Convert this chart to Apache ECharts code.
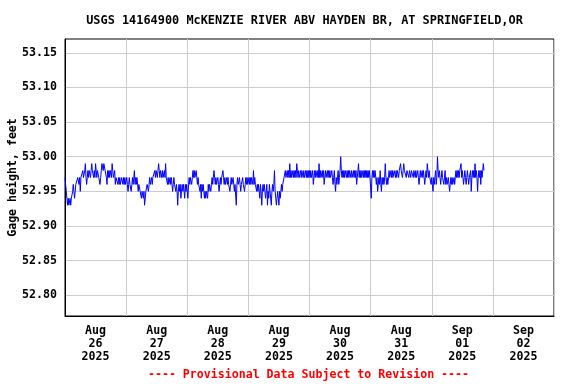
<!DOCTYPE html>
<html>
<head>
<meta charset="utf-8">
<script src="https://cdn.jsdelivr.net/npm/echarts@6/dist/echarts.min.js"></script>
<style>html,body{margin:0;padding:0;background:#fff}#c{width:576px;height:384px}</style>
</head>
<body>
<div id="c"></div>
<script>
// Gage height, feet — 15-minute readings, one array per day (UTC day starting at midnight)
const aug26 = [52.97,52.96,52.95,52.94, 52.93,52.94,52.93,52.93,52.94,52.93,52.94,52.94,
  52.95,52.96,52.95,52.94,52.95,52.96,52.96, 52.96,52.97,52.97,52.96,52.97,52.95,52.97,52.97,
  52.97,52.98,52.97,52.97,52.98,52.99,52.97,52.96,52.97,52.98,52.97,
  52.98,52.98,52.97,52.98,52.99,52.98,52.98,52.97, 52.98,52.97,52.99,52.98,52.97,52.98,52.98,
  52.97,52.97,52.96,52.97,52.98, 52.99,52.99,52.98,52.99,52.99,52.98, 52.98,52.97,52.96,52.98,52.97,
  52.98,52.97,52.98,52.98,52.97,52.99,52.98,52.97, 52.97,52.98,52.96,52.97,52.97,
  52.97,52.96,52.97,52.96,52.97,52.96,52.96,52.97,52.97,52.96,52.97,52.96,52.97,52.96];
const aug27 = [52.96,52.97,52.96,52.95,52.96,52.97,52.96,52.96,52.95,52.96,52.97,52.96,
  52.97,52.98,52.96,52.97,52.96,52.97,52.96,52.95,52.96,52.96,52.95,
  52.95,52.94,52.95,52.95,52.94,52.95,52.93,52.94,52.95,52.95,
  52.96,52.96,52.95,52.96,52.97,52.96,52.96,52.97,52.96,52.97,52.97,
  52.97,52.98,52.97,52.98,52.98,52.97,52.98,52.99,52.98,52.97,52.98,52.98,52.97,52.98,52.97,52.97,52.98,52.97,52.99,52.97,
  52.97,52.96,52.97,52.96,52.96,52.97,52.96,52.97,52.96,52.95,52.96,52.97,52.96,52.96,
  52.95,52.96,52.95,52.93,52.95,52.96,52.95,52.96,52.94,52.95,52.96,52.95,52.96,52.95,52.94,52.96,52.95,52.96];
const aug28 = [52.96,52.94,52.96,52.97,52.96,52.97,52.97,52.96,
  52.97,52.98,52.97,52.98,52.97,52.97,52.98,52.97,52.96,52.97,52.96,
  52.96,52.95,52.96,52.94,52.96,52.95,52.96,52.95,
  52.94,52.95,52.94,52.95,52.95,52.94,52.96,52.95,52.96,52.96,52.95,
  52.96,52.97,52.96,52.97,52.98,52.97,52.96,52.97,52.96,52.96,52.97,52.96,52.95,52.96,52.97,52.96,52.97,52.97,52.98,52.97,52.96,52.97,52.96,52.96,52.97,
  52.96,52.97,52.96,52.96,52.95,52.96,52.97,52.96,52.96,52.97,52.96,52.95,52.96,52.96,52.93,52.96,
  52.97,52.96,52.96,52.97,52.96,52.95,52.96,52.96,52.97,52.96,52.96,52.95,52.96,52.97,52.96,52.97,52.96];
const aug29 = [52.96,52.97,52.96,52.97,52.96,52.97,52.97,52.96,52.98,52.96,52.97,52.96,52.96,52.95,
  52.96,52.95,52.96,52.95,52.94,52.96,52.95,52.93,52.95,52.96,52.95,52.96,52.95,52.94,52.95,52.96,52.93,52.95,52.94,52.96,52.95,52.95,52.93,52.95,52.96,52.95,52.96,
  52.98,52.95,52.94,52.93,52.94,52.95,52.94,52.93,52.95,52.94,52.95,
  52.96,52.95,52.96,52.96,52.97,
  52.97,52.98,52.97,52.97,52.98,52.97,52.98,52.97,52.99,52.97,52.98,52.97,52.97,52.98,52.97,52.98,52.97,52.98,52.97,52.99,
  52.98,52.97,52.98,52.97,52.97,52.98,52.97,52.98,52.98,52.97,52.98,52.97,52.97,52.98,52.97,52.98,52.97,52.98,52.97];
const aug30 = [52.98,52.97,52.98,52.97,52.97,52.98,52.96,52.97,52.98,52.97,52.98,52.98,52.97,52.98,52.97,52.99,52.97,52.98,
  52.97,52.97,52.98,52.97,52.98,52.96,52.97,52.98,52.97,52.97,52.98,52.97,52.98,52.97,52.98,52.97,52.97,52.98,
  52.97,52.96,52.97,52.98,52.96,52.95,52.97,52.96,52.97,52.98,52.96,52.97,52.98,53.00,
  52.98,52.97,52.98,52.97,52.98,52.97,52.98,52.98,52.97,52.98,52.97,52.98,52.97,52.98,52.98,52.97,52.98,52.97,52.97,52.98,
  52.97,52.98,52.97,52.98,52.96,52.97,52.98,52.99,52.97,52.98,52.97,52.98,52.97,52.97,52.98,52.97,52.98,52.97,52.98,52.97,
  52.98,52.97,52.98,52.97,52.98,52.97];
const aug31 = [52.97,52.94,52.97,52.98, 52.97,52.98,52.97,52.98,52.97,
  52.96,52.97,52.95,52.96,52.97,52.96,52.98,52.96,52.95,52.97,52.96,52.97,52.96,52.97,52.99,52.97,
  52.96,52.97,52.96,52.97,52.98,52.97,52.97,
  52.98,52.97,52.98,52.97,52.97,52.98,52.98,52.97,52.98,52.97,52.98,52.98,52.97,52.98,
  52.98,52.99,52.98,52.98,52.97,52.98,52.99,52.98,52.98,52.98,52.97,52.98,52.98,52.98,52.97,52.98,52.98,52.97,52.98,52.98,52.98,52.97,52.98,
  52.98,52.97,52.98,52.97,52.97,52.98,52.97,52.96,52.97,52.98,52.97,52.97,52.98,52.97,52.98,52.97,
  52.96,52.97,52.98,52.97,52.99,52.98,52.97,52.98,52.97,52.97,52.96];
const sep01 = [52.97,52.96,52.95,52.97,52.96,52.97,52.98,52.96,52.97,
  53.00,
  52.98,52.97,52.98,52.97,52.96,52.97,52.98,52.97,52.97,
  52.96,52.97,52.98,52.96,52.97,52.96,52.96,52.97,52.96,52.95,52.96,52.97,52.96,52.97,52.96,52.96,52.97,52.96,
  52.97,52.98,52.97,52.98,52.97,52.98,52.97,52.98,52.98,52.99,
  52.97,52.98,52.97,52.96,52.97,52.98,52.97,52.96,52.97,52.98,52.97,52.96,52.97,52.97,52.98,52.95,
  52.97,52.98,52.97,52.98,52.97,52.99,52.97,52.98,52.97,52.95,52.97,52.98,52.97,52.98,52.96,52.98,52.97,52.98,52.99,52.98];

const days = [aug26, aug27, aug28, aug29, aug30, aug31, sep01];
const xTickLabels = ['Aug\n26\n2025','Aug\n27\n2025','Aug\n28\n2025','Aug\n29\n2025',
                     'Aug\n30\n2025','Aug\n31\n2025','Sep\n01\n2025','Sep\n02\n2025'];
const yTicks = [52.80, 52.85, 52.90, 52.95, 53.00, 53.05, 53.10, 53.15];
const yMin = 52.77, yMax = 53.17;
const titleText = 'USGS 14164900 McKENZIE RIVER ABV HAYDEN BR, AT SPRINGFIELD,OR';
const footerText = '---- Provisional Data Subject to Revision ----';

const DAY = 86400000, STEP = 900000;
const start = Date.UTC(2025, 7, 26);
const data = [];
days.forEach((arr, d) => arr.forEach((v, i) => data.push([start + d * DAY + i * STEP, v])));
const midnights = xTickLabels.map((_, i) => start + i * DAY).concat([start + 8 * DAY]);
const noons = xTickLabels.map((_, i) => start + i * DAY + DAY / 2);

const FONT = 'DejaVu Sans Mono';
const chart = echarts.init(document.getElementById('c'), null, {renderer: 'canvas'});
chart.setOption({
  animation: false,
  backgroundColor: '#ffffff',
  graphic: [{
    type: 'text', x: 304.5, y: 21,
    style: {text: titleText, align: 'center', verticalAlign: 'middle',
            font: 'bold 11.9px "DejaVu Sans Mono"', fill: '#000'}
  }, {
    type: 'text', x: 308.5, y: 375,
    style: {text: footerText, align: 'center', verticalAlign: 'middle',
            font: 'bold 11.6px "DejaVu Sans Mono"', fill: '#ff0000'}
  }],
  grid: {left: 65, right: 22, top: 39, bottom: 68, outerBoundsMode: 'none', containLabel: false,
         show: true, borderColor: '#000', borderWidth: 1, backgroundColor: 'transparent'},
  xAxis: {
    type: 'value', min: start, max: start + 8 * DAY,
    axisLine: {show: true, lineStyle: {color: '#000'}},
    axisTick: {show: false, customValues: midnights},
    splitLine: {show: true, lineStyle: {color: '#cccccc', width: 1}},
    axisLabel: {
      customValues: noons, margin: 8, lineHeight: 13,
      fontFamily: FONT, fontWeight: 'bold', fontSize: 11.6, color: '#000',
      formatter: v => xTickLabels[Math.round((v - start - DAY / 2) / DAY)]
    }
  },
  yAxis: {
    type: 'value', min: yMin, max: yMax,
    name: 'Gage height, feet', nameLocation: 'middle', nameGap: 46, nameRotate: 90,
    nameMoveOverlap: false,
    nameTextStyle: {fontFamily: FONT, fontWeight: 'bold', fontSize: 11.6, color: '#000'},
    axisLine: {show: true, lineStyle: {color: '#000'}},
    axisTick: {show: false, customValues: yTicks},
    splitLine: {show: true, lineStyle: {color: '#cccccc', width: 1}},
    axisLabel: {
      customValues: yTicks, margin: 8,
      fontFamily: FONT, fontWeight: 'bold', fontSize: 11.6, color: '#000',
      formatter: v => v.toFixed(2)
    }
  },
  series: [{
    type: 'line', data: data, showSymbol: false, symbol: 'none', sampling: null,
    lineStyle: {color: '#0000ff', width: 1}, z: 3
  }]
});
</script>
</body>
</html>
